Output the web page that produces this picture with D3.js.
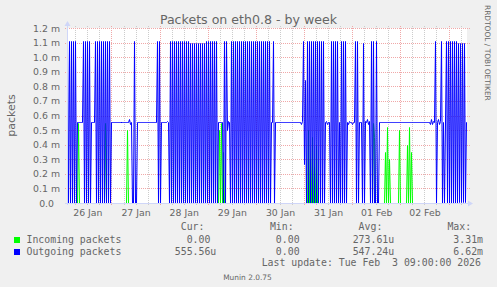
<!DOCTYPE html>
<html>
<head>
<meta charset="utf-8">
<title>Packets on eth0.8 - by week</title>
<script src="https://cdn.jsdelivr.net/npm/d3@7"></script>
<style>
  body { margin: 0; background: #f0f0f0; }
  svg { display: block; }
  text { font-family: "DejaVu Sans", sans-serif; fill: #666; }
  text.mono { font-family: "DejaVu Sans Mono", monospace; font-size: 9.85px; white-space: pre; }
</style>
</head>
<body>
<div id="container"></div>
<script>

// values (packets per second, 30 min samples)
// one char per sample, starting Jan 26 02:00 UTC
const levelCodes = {
  "0": 0, "z": 0.006e-3, "e": 0.27e-3, "d": 0.50e-3, "a": 0.545e-3, "M": 0.556e-3,
  "b": 0.565e-3, "c": 0.575e-3, "f": 0.84e-3, "h": 1.10e-3, "H": 1.11e-3
};

const outgoingCodes = [
  "H0H0H0H0H0", "MMMMMM", "H0H0H0H0", "MMMM", "H0H0H0H0H0", "H0H0H0",
  "MMMMMMMMMM", "MMMMMMM", "caM", "00H00", "MMMMMMMMMM", "MMMMMMMMMM",
  "H0H0", "MMMMMMbM0",
  "H0H0H0H0H0", "H0H0H0H0H0", "h0h0h0h0h0", "h0h0h0", "H0H0H0H0H0", "H0",
  "MMMMM0H0HdbM0",
  "H0H0H0H0H0", "H0H0H0H0H0", "H0H0H0H0H0", "H0H0H0H0H0",
  "MMH0", "MMMMMMMMMM", "MMMMMMMMMM", "MMMMMM",
  "abHef0", "H0H0H0H0H0", "H0H0H0H0",
  "MbaMM0", "H0H0H0H0", "M0", "H0H0H0", "MabMMaMM", "H0H0", "MMM0h0",
  "bMcab0", "H0H00H00",
  "MMMMMMMMMM", "MMMMMMMMMM", "MMMMMMMMMM", "MMMMMMMMMM", "MMMMMMMMMM", "M",
  "acabM", "H0McabH0M0", "H0H0H0H0H0", "H0", "hzhzhzhz", "MM"
].join("");

// incoming is zero except for these samples [sample index, value]
const incomingSpikes = [
  [11, 0.55e-3], [38, 0.55e-3], [59, 0.50e-3],
  [151, 0.50e-3], [153, 0.55e-3], [155, 0.35e-3],
  [240, 0.50e-3], [242, 0.30e-3], [244, 0.45e-3], [246, 0.25e-3], [248, 0.40e-3],
  [305, 0.55e-3], [306, 0.45e-3],
  [317, 0.35e-3], [319, 0.52e-3], [321, 0.30e-3],
  [331, 0.50e-3],
  [339, 0.40e-3], [341, 0.52e-3], [343, 0.35e-3]
];

const yTickValues = [0, 0.1e-3, 0.2e-3, 0.3e-3, 0.4e-3, 0.5e-3, 0.6e-3,
                     0.7e-3, 0.8e-3, 0.9e-3, 1.0e-3, 1.1e-3, 1.2e-3];

const legendNames = ["Incoming packets", "Outgoing packets"];
const legendHeaders = [" Cur:", " Min:", " Avg:", " Max:"];
const legendRows = [
  ["  0.00 ", "  0.00 ", "273.61u", "  3.31m"],
  ["555.56u", "  0.00 ", "547.24u", "  6.62m"]
];
const lastUpdate = "Last update: Tue Feb  3 09:00:00 2026";

// sizes
const width = 497, height = 287;
const plot = {left: 67, right: 467, top: 28, bottom: 203};
const sampleStart = Date.UTC(2026, 0, 26, 2, 0);
const step = 30 * 60 * 1000;

const outgoing = outgoingCodes.split("").map((c, i) => ({t: new Date(sampleStart + i * step), v: levelCodes[c]}));
const incoming = outgoing.map(d => ({t: d.t, v: 0}));
incomingSpikes.forEach(([i, v]) => { incoming[i].v = v; });

const svg = d3.select("#container").append("svg")
  .attr("width", width)
  .attr("height", height);

svg.append("rect").attr("width", width).attr("height", height).attr("fill", "#f0f0f0");

const xScale = d3.scaleUtc()
  .domain([new Date(Date.UTC(2026, 0, 26, 1, 50)), new Date(Date.UTC(2026, 1, 3, 9, 13))])
  .range([plot.left, plot.right]);

const yScale = d3.scaleLinear()
  .domain([0, 1.2e-3])
  .range([plot.bottom, plot.top]);

// pixel centre helpers, rrdtool draws on whole pixels
const px = t => Math.round(xScale(t)) + 0.5;
const py = v => Math.round(yScale(v)) + 0.5;

// dotted lines as single pixels (1 on, 1 off)
function vDots(x, y1, y2) {
  let d = "";
  for (let y = y1; y < y2; y += 2) d += `M${x},${y}v1`;
  return d;
}
function hDots(y, x1, x2) {
  let d = "";
  for (let x = x1; x < x2; x += 2) d += `M${x},${y}h1`;
  return d;
}

// canvas
svg.append("rect")
  .attr("x", plot.left).attr("y", plot.top)
  .attr("width", plot.right - plot.left).attr("height", plot.bottom - plot.top)
  .attr("fill", "#fff");

// grid
const grid = svg.append("g").attr("fill", "none").attr("stroke-width", 1);
const minor = d3.utcHour.every(6).range(...xScale.domain()).filter(d => d.getUTCHours() !== 0);
const major = d3.utcDay.range(...xScale.domain());

grid.selectAll(null).data(minor).enter().append("path")
  .attr("d", d => vDots(px(d), plot.top - 2, plot.bottom + 3))
  .attr("stroke", "#cccccc");

grid.selectAll(null).data(major).enter().append("path")
  .attr("d", d => vDots(px(d), plot.top - 2, plot.bottom + 3))
  .attr("stroke", "#f0a8a8");

grid.selectAll(null).data(yTickValues.slice(1)).enter().append("path")
  .attr("d", d => hDots(py(d), plot.left - 2, plot.right + 3))
  .attr("stroke", "#f0a8a8");

// data lines
svg.append("clipPath").attr("id", "clip").append("rect")
  .attr("x", plot.left).attr("y", plot.top - 1)
  .attr("width", plot.right - plot.left).attr("height", plot.bottom - plot.top + 2);

const line = d3.line().x(d => px(d.t)).y(d => py(d.v));

const lines = svg.append("g").attr("clip-path", "url(#clip)");
lines.append("path").datum(incoming)
  .attr("d", line).attr("fill", "none").attr("stroke", "#00ff00").attr("stroke-width", 1);
lines.append("path").datum(outgoing)
  .attr("d", line).attr("fill", "none").attr("stroke", "#0000ff").attr("stroke-width", 1);

// axes lines and arrows
const axisColor = "#cfd6f8";
svg.append("line").attr("x1", plot.left - 2).attr("x2", plot.right + 3)
  .attr("y1", plot.bottom + 0.5).attr("y2", plot.bottom + 0.5)
  .attr("stroke", axisColor);
svg.append("line").attr("x1", plot.left + 0.5).attr("x2", plot.left + 0.5)
  .attr("y1", plot.bottom + 2).attr("y2", plot.top - 4)
  .attr("stroke", axisColor);
svg.append("path")
  .attr("d", `M${plot.right + 1},${plot.bottom - 2.5}L${plot.right + 6},${plot.bottom + 0.5}L${plot.right + 1},${plot.bottom + 3.5}Z`)
  .attr("fill", axisColor);
svg.append("path")
  .attr("d", `M${plot.left - 2.5},${plot.top - 2}L${plot.left + 0.5},${plot.top - 7}L${plot.left + 3.5},${plot.top - 2}Z`)
  .attr("fill", axisColor);

// tick labels
const noons = major.map(d => new Date(+d + 12 * 3600 * 1000)).concat([new Date(Date.UTC(2026, 0, 26, 12))])
  .filter(d => xScale(d) > plot.left && xScale(d) < plot.right);

const xAxis = svg.append("g")
  .attr("transform", `translate(0,${plot.bottom})`)
  .call(d3.axisBottom(xScale).tickValues(noons).tickFormat(d3.utcFormat("%d %b")).tickSize(0).tickPadding(6));
xAxis.select(".domain").remove();
xAxis.selectAll("text").attr("fill", "#666").style("font-size", "9.33px");

const yAxis = svg.append("g")
  .attr("transform", `translate(${plot.left},0)`)
  .call(d3.axisLeft(yScale).tickValues(yTickValues)
    .tickFormat(v => v === 0 ? "0.0" : (v * 1e3).toFixed(1) + " m").tickSize(0).tickPadding(7));
yAxis.select(".domain").remove();
yAxis.selectAll("text").attr("fill", "#666").style("font-size", "9.33px")
  .attr("dx", d => d === 0 ? -6 : 0);

// title and labels
svg.append("text")
  .attr("x", width / 2).attr("y", 24)
  .attr("text-anchor", "middle").style("font-size", "12.6px")
  .text("Packets on eth0.8 - by week");

svg.append("text")
  .attr("transform", `translate(15,${(plot.top + plot.bottom) / 2}) rotate(-90)`)
  .attr("text-anchor", "middle").style("font-size", "11px")
  .text("packets");

svg.append("text")
  .attr("transform", "translate(485,5) rotate(90)")
  .style("font-size", "7.45px").attr("fill", "#cccccc")
  .text("RRDTOOL / TOBI OETIKER");

svg.append("text")
  .attr("x", 247.5).attr("y", 279.5).attr("text-anchor", "middle")
  .style("font-size", "7.45px").attr("fill", "#cccccc")
  .text("Munin 2.0.75");

// legend
const colX = [174.8, 264, 352.7, 441.5];
const legendColors = ["#00ff00", "#0000ff"];
const rowY = [243, 255];

svg.selectAll(".lhead").data(legendHeaders).enter().append("text")
  .attr("class", "mono").attr("x", (d, i) => colX[i]).attr("y", 230).text(d => d);

legendNames.forEach((name, r) => {
  svg.append("rect").attr("x", 14).attr("y", rowY[r] - 6).attr("width", 6).attr("height", 6)
    .attr("fill", legendColors[r]);
  svg.append("text").attr("class", "mono").attr("x", 26.5).attr("y", rowY[r]).text(name);
  svg.selectAll(null).data(legendRows[r]).enter().append("text")
    .attr("class", "mono").attr("x", (d, i) => colX[i]).attr("y", rowY[r]).text(d => d);
});

svg.append("text").attr("class", "mono")
  .attr("x", 261.7).attr("y", 266.3).text(lastUpdate);

</script>
</body>
</html>
